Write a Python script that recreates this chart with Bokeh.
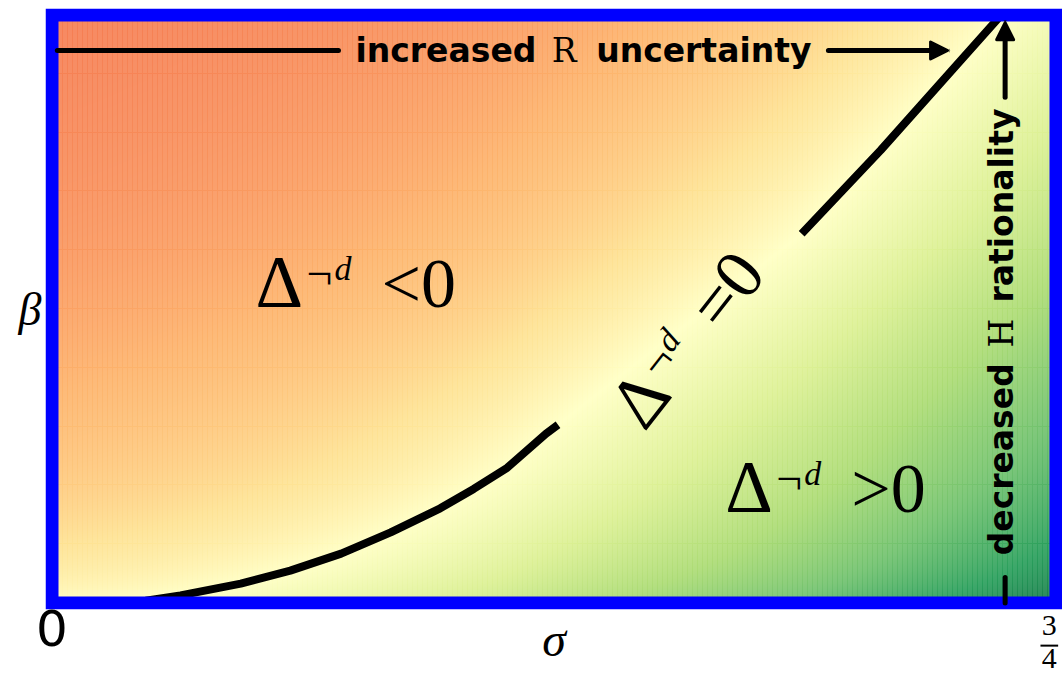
import numpy as np
from bokeh.plotting import figure
from bokeh.models import Label, Arrow, NormalHead, FixedTicker
from bokeh.core.properties import value
from bokeh.embed import file_html
from bokeh.resources import INLINE

# Axis extents of the (sigma, beta) plane
SIGMA_MAX = 0.75
BETA_MAX = 1.0

# Boundary Delta^{-d} = 0, split in two pieces around its label
lower_sigma = [0.036, 0.070, 0.096, 0.141, 0.178, 0.216, 0.253, 0.290, 0.315, 0.340, 0.369, 0.378]
lower_beta = [0.000, 0.004, 0.013, 0.033, 0.055, 0.084, 0.120, 0.161, 0.194, 0.230, 0.288, 0.303]
upper_sigma = [0.560, 0.619, 0.704, 0.709]
upper_beta = [0.628, 0.770, 0.987, 1.000]

# Tick labels on sigma
x_ticks = [0]

# RdYlGn palette (red -> yellow -> green)
rdylgn = ["#a50026", "#d73027", "#f46d43", "#fdae61", "#fee08b", "#ffffbf",
          "#d9ef8b", "#a6d96a", "#66bd63", "#1a9850", "#006837"]

# ---- background shading: sign and size of Delta around the boundary ----
bound_sigma = np.array(lower_sigma + upper_sigma)
bound_beta = np.array(lower_beta + upper_beta)
nx, ny = 1004, 588
S, B = np.meshgrid(np.linspace(0, SIGMA_MAX, nx), np.linspace(0, BETA_MAX, ny))
# horizontal and vertical offsets from the boundary
h = S - np.interp(B, bound_beta, bound_sigma)
edge_beta = np.interp(S, bound_sigma, bound_beta)
slope = (bound_beta[-1] - bound_beta[-2]) / (bound_sigma[-1] - bound_sigma[-2])
edge_beta = np.where(S > bound_sigma[-1], bound_beta[-1] + slope * (S - bound_sigma[-1]), edge_beta)
v = edge_beta - B
mag = np.sqrt(np.abs(h) * np.abs(v))
e_ref = 0.845
t_neg = 0.5 - 0.29 * (1 - np.exp(-mag / 0.42)) / (1 - np.exp(-e_ref / 0.42))
t_pos = 0.5 + 0.47 * mag / e_ref
t = np.clip(np.where(h < 0, t_neg, t_pos), 0, 1)
pal = np.array([[int(c[i:i + 2], 16) for i in (1, 3, 5)] for c in rdylgn], float)
stops = np.linspace(0, 1, len(rdylgn))
alpha = 0.85

# faint cell seams of the shaded mesh
seam = np.ones((ny, nx))
seam[:, ::5] = 1.10
seam[np.round(np.arange(0, ny, ny / 10)).astype(int), :] = 1.10

img = np.empty((ny, nx), dtype=np.uint32)
view = img.view(dtype=np.uint8).reshape((ny, nx, 4))
for k in range(3):
    ch = alpha * np.interp(t, stops, pal[:, k]) + (1 - alpha) * 255
    ch = 255 - (255 - ch) * seam
    view[:, :, k] = np.clip(np.round(ch), 0, 255).astype(np.uint8)
view[:, :, 3] = 255

# ---- figure ----
px_x = 1004 / SIGMA_MAX      # pixels per unit sigma
px_y = 588 / BETA_MAX        # pixels per unit beta
pad = 6.5
p = figure(width=1062, height=675,
           x_range=(-pad / px_x, SIGMA_MAX + pad / px_x),
           y_range=(-pad / px_y, BETA_MAX + pad / px_y),
           output_backend="svg", toolbar_location=None,
           min_border_left=45, min_border_right=0,
           min_border_top=8, min_border_bottom=66)
p.grid.visible = False
p.outline_line_color = None
p.background_fill_color = "white"

p.image_rgba(image=[img], x=0, y=0, dw=SIGMA_MAX, dh=BETA_MAX)

p.line(lower_sigma, lower_beta, line_width=8, color="black", line_cap="butt")
p.line(upper_sigma, upper_beta, line_width=8, color="black", line_cap="butt")

# blue frame around the plane
p.quad(left=0, right=SIGMA_MAX, bottom=0, top=BETA_MAX, fill_color=None,
       line_color="#0000ff", line_width=13, line_join="miter")

# axes
xa = p.xaxis[0]
xa.ticker = FixedTicker(ticks=x_ticks)
xa.axis_line_color = None
xa.major_tick_line_color = None
xa.minor_tick_line_color = None
xa.major_tick_out = 0
xa.major_tick_in = 0
xa.major_label_standoff = 0
xa.major_label_text_font = "DejaVu Sans"
xa.major_label_text_font_size = "50px"
xa.major_label_text_color = "black"
xa.axis_label = "σ"
xa.axis_label_text_font = "Liberation Serif"
xa.axis_label_text_font_style = "italic"
xa.axis_label_text_font_size = "48px"
xa.axis_label_text_color = "black"
xa.axis_label_standoff = -36

ya = p.yaxis[0]
ya.ticker = FixedTicker(ticks=[])
ya.axis_line_color = None
ya.major_tick_line_color = None
ya.minor_tick_line_color = None
ya.major_tick_out = 0
ya.major_tick_in = 0
ya.major_label_standoff = 0
ya.axis_label = "β"
ya.axis_label_orientation = "horizontal"
ya.axis_label_text_font = "Liberation Serif"
ya.axis_label_text_font_style = "italic"
ya.axis_label_text_font_size = "46px"
ya.axis_label_text_color = "black"
ya.axis_label_standoff = 4

# 3/4 at the right end of the sigma axis (drawn above the frame clip)
frac_x = SIGMA_MAX - 0.005
p.text(x=[frac_x, frac_x], y=[-0.038, -0.094], text=["3", "4"],
       text_font=value("Liberation Serif"), text_font_size="30px",
       text_align="center", text_baseline="middle", text_color="black",
       level="overlay")
p.segment(x0=[frac_x - 0.0066], x1=[frac_x + 0.0066], y0=[-0.0725], y1=[-0.0725],
          line_width=2, line_color="black", level="overlay")

SERIF = "Liberation Serif"
SANS = "DejaVu Sans"
BASE_SHIFT = 0.355   # raises Label text so that y is its alphabetic baseline


def put(x, y, text, size, font=SERIF, style="normal", angle=0.0,
        dx=0.0, dy=0.0, align="left"):
    rise = BASE_SHIFT * size
    p.add_layout(Label(x=x, y=y,
                       x_offset=dx - rise * np.sin(angle),
                       y_offset=dy + rise * np.cos(angle),
                       text=text, angle=angle,
                       text_font=font, text_font_size=f"{size}px",
                       text_font_style=style, text_align=align,
                       text_baseline="alphabetic", text_color="black"))


def delta_expr(x, y, rel, angle_deg=0.0):
    """Delta^{-d} <rel> 0 laid out along a baseline turned by angle_deg."""
    th = np.radians(angle_deg)
    c, s = np.cos(th), np.sin(th)
    parts = [(0, 0, "Δ", 74, "normal"),
             (51, 19, "¬", 46, "normal"),
             (79, 28, "d", 34, "italic"),
             (126, 0, rel + "0", 70, "normal")]
    for u, w, txt, size, style in parts:
        put(x, y, txt, size, style=style, angle=th,
            dx=u * c - w * s, dy=u * s + w * c)


delta_expr(0.152, 0.501, "<")
delta_expr(0.503, 0.152, ">")
delta_expr(0.4433, 0.288, "=", angle_deg=52)

# annotation: increased R uncertainty  ------>
put(0.2267, 0.919, "increased", 33, font=SANS, style="bold")
put(0.3826, 0.919, "R", 33, font="DejaVu Serif", align="center")
put(0.4065, 0.919, "uncertainty", 33, font=SANS, style="bold")
p.add_layout(Arrow(x_start=0.004, x_end=0.214, y_start=0.9396, y_end=0.9396,
                   end=None, line_width=5, line_color="black", line_cap="round"))
p.add_layout(Arrow(x_start=0.580, x_end=0.669, y_start=0.9396, y_end=0.9396,
                   end=NormalHead(size=17, fill_color="black", line_color="black",
                                  line_width=3, line_join="round"),
                   line_width=5, line_color="black", line_cap="round"))

# annotation: decreased H rationality, reading upward
vx = 0.718
put(vx, 0.081, "decreased", 33, font=SANS, style="bold", angle=np.pi / 2)
put(vx, 0.459, "H", 33, font="DejaVu Serif", angle=np.pi / 2, align="center")
put(vx, 0.511, "rationality", 33, font=SANS, style="bold", angle=np.pi / 2)
p.add_layout(Arrow(x_start=0.712, x_end=0.712, y_start=0.860, y_end=0.987,
                   end=NormalHead(size=17, fill_color="black", line_color="black",
                                  line_width=3, line_join="round"),
                   line_width=5, line_color="black", line_cap="round"))
p.add_layout(Arrow(x_start=0.712, x_end=0.712, y_start=0.0, y_end=0.0434,
                   end=None, line_width=5, line_color="black", line_cap="round"))

open("out.html", "w").write(file_html(p, INLINE))
